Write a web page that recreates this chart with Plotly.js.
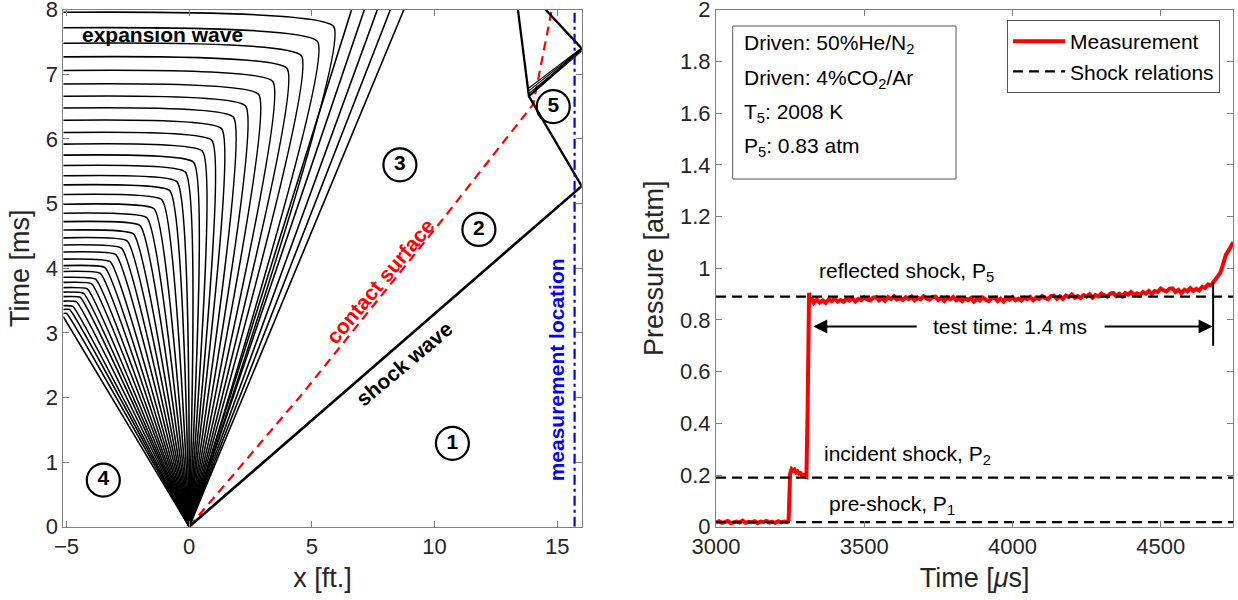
<!DOCTYPE html>
<html>
<head>
<meta charset="utf-8">
<script src="https://cdn.plot.ly/plotly-3.0.1.min.js"></script>
<style>
  html, body { margin: 0; padding: 0; background: #fff; }
  #chart { width: 1238px; height: 600px; }
</style>
</head>
<body>
<div id="chart"></div>
<script>
// ---------------- x-t wave diagram (left panel) ----------------
const X_LEFT = -5.13;      // left edge of the plotted tube section [ft]
const X_WALL = 16.0;       // driven-section end wall [ft]
const T_TOP = 8.0;         // top of the time window [ms]

// expansion fan: each characteristic leaves the diaphragm (0,0), bends at a corner
// and then runs almost horizontally out through the left edge
const fanCornerX = [-4.99, -4.87, -4.74, -4.59, -4.44, -4.30, -4.15, -3.98, -3.81, -3.62,
                    -3.43, -3.22, -2.99, -2.76, -2.52, -2.27, -2.00, -1.72, -1.43, -1.11,
                    -0.79, -0.50, -0.16, 0.18, 0.54, 0.92, 1.32, 1.80, 2.30, 2.83,
                    3.41, 3.99, 4.57, 5.23, 5.89];
const fanCornerT = [3.30, 3.36, 3.41, 3.48, 3.55, 3.61, 3.68, 3.76, 3.83, 3.92,
                    4.01, 4.10, 4.21, 4.31, 4.42, 4.53, 4.66, 4.78, 4.92, 5.06,
                    5.20, 5.34, 5.49, 5.64, 5.81, 5.98, 6.16, 6.34, 6.51, 6.69,
                    6.89, 7.09, 7.29, 7.51, 7.74];
const fanEdgeT   = [3.30, 3.36, 3.42, 3.49, 3.56, 3.63, 3.70, 3.78, 3.86, 3.95,
                    4.04, 4.14, 4.25, 4.36, 4.47, 4.59, 4.72, 4.85, 4.99, 5.14,
                    5.29, 5.43, 5.59, 5.75, 5.92, 6.10, 6.29, 6.48, 6.66, 6.85,
                    7.06, 7.27, 7.48, 7.72, 7.96];
const fanHeadEdgeT = 3.25;                    // head characteristic reaching the left edge
const fanTopX = [6.62, 7.14, 7.67, 8.20];     // characteristics leaving through the top
const fanTailTopX = 8.75;                      // tail of the expansion

// incident shock, reflected shock and the waves after the contact interaction
const shockX = [0, X_WALL];            const shockT = [0, 5.27];
const reflShockX = [X_WALL, 13.85, 13.40]; const reflShockT = [5.27, 6.66, 8.0];
const bundleStartX = [13.85, 13.84, 13.83, 13.82];
const bundleStartT = [6.66, 6.70, 6.74, 6.78];
const bundleEndT   = [7.36, 7.38, 7.40, 7.41];
const wallReflX = [X_WALL, 14.53];     const wallReflT = [7.40, 8.0];
const contactX = [0, 4.60, 10.30, 14.03, 14.78];
const contactT = [0, 2.05, 4.74, 6.54, 8.0];
const measX = 15.71;

// region markers
const regionLabels = ['1', '2', '3', '4', '5'];
const regionX = [10.73, 11.81, 8.59, -3.50, 14.84];
const regionT = [1.29, 4.60, 5.60, 0.72, 6.50];

// ---------------- pressure trace (right panel) ----------------
const measTime = [
  3000, 3010, 3020, 3030, 3040, 3050, 3060, 3070, 3080, 3090,
  3100, 3110, 3120, 3130, 3140, 3150, 3160, 3170, 3180, 3190,
  3200, 3210, 3220, 3230, 3240, 3245, 3250, 3255, 3260, 3265,
  3270, 3275, 3280, 3285, 3290, 3295, 3300, 3305, 3309, 3312,
  3314, 3317, 3322, 3330,
  3340, 3350, 3360, 3370, 3380, 3390, 3400, 3410, 3420, 3430,
  3440, 3450, 3460, 3470, 3480, 3490, 3500, 3510, 3520, 3530,
  3540, 3550, 3560, 3570, 3580, 3590, 3600, 3610, 3620, 3630,
  3640, 3650, 3660, 3670, 3680, 3690, 3700, 3710, 3720, 3730,
  3740, 3750, 3760, 3770, 3780, 3790, 3800, 3810, 3820, 3830,
  3840, 3850, 3860, 3870, 3880, 3890, 3900, 3910, 3920, 3930,
  3940, 3950, 3960, 3970, 3980, 3990, 4000, 4010, 4020, 4030,
  4040, 4050, 4060, 4070, 4080, 4090, 4100, 4110, 4120, 4130,
  4140, 4150, 4160, 4170, 4180, 4190, 4200, 4210, 4220, 4230,
  4240, 4250, 4260, 4270, 4280, 4290, 4300, 4310, 4320, 4330,
  4340, 4350, 4360, 4370, 4380, 4390, 4400, 4410, 4420, 4430,
  4440, 4450, 4460, 4470, 4480, 4490, 4500, 4510, 4520, 4530,
  4540, 4550, 4560, 4570, 4580, 4590, 4600, 4610, 4620, 4630,
  4640, 4650, 4660, 4670, 4680, 4690, 4700, 4705, 4710, 4715,
  4720, 4725, 4730, 4735, 4740, 4745
];
const measPressure = [
  0.016, 0.021, 0.015, 0.019, 0.022, 0.014, 0.018, 0.020, 0.016, 0.023,
  0.015, 0.019, 0.017, 0.021, 0.014, 0.020, 0.018, 0.022, 0.016, 0.019,
  0.015, 0.021, 0.017, 0.020, 0.018, 0.025, 0.205, 0.222, 0.216, 0.221,
  0.210, 0.214, 0.205, 0.207, 0.199, 0.200, 0.194, 0.192, 0.450, 0.800,
  0.905, 0.872, 0.885, 0.866,
  0.879, 0.867, 0.876, 0.866, 0.879, 0.873, 0.883, 0.871, 0.877, 0.870,
  0.881, 0.875, 0.884, 0.871, 0.881, 0.876, 0.887, 0.879, 0.875, 0.886,
  0.888, 0.876, 0.885, 0.874, 0.888, 0.881, 0.891, 0.879, 0.885, 0.877,
  0.888, 0.881, 0.890, 0.876, 0.886, 0.880, 0.891, 0.883, 0.878, 0.889,
  0.890, 0.877, 0.886, 0.874, 0.887, 0.880, 0.889, 0.876, 0.882, 0.873,
  0.884, 0.877, 0.885, 0.871, 0.881, 0.875, 0.886, 0.878, 0.873, 0.884,
  0.886, 0.873, 0.882, 0.871, 0.885, 0.878, 0.888, 0.876, 0.882, 0.875,
  0.886, 0.880, 0.889, 0.876, 0.886, 0.881, 0.892, 0.885, 0.880, 0.892,
  0.894, 0.882, 0.891, 0.881, 0.894, 0.888, 0.898, 0.886, 0.892, 0.885,
  0.896, 0.890, 0.899, 0.886, 0.896, 0.891, 0.902, 0.895, 0.890, 0.902,
  0.904, 0.892, 0.901, 0.891, 0.904, 0.898, 0.908, 0.896, 0.903, 0.896,
  0.908, 0.902, 0.912, 0.900, 0.912, 0.908, 0.921, 0.914, 0.910, 0.921,
  0.922, 0.908, 0.916, 0.904, 0.917, 0.911, 0.923, 0.912, 0.920, 0.914,
  0.928, 0.924, 0.937, 0.934, 0.948, 0.962, 0.980, 0.995, 1.015, 1.035,
  1.052, 1.060, 1.075, 1.080, 1.092, 1.100
];

// shock-relation pressures [atm]
const shockLevelNames = ['reflected shock, P<sub>5</sub>', 'incident shock, P<sub>2</sub>', 'pre-shock, P<sub>1</sub>'];
const shockLevels = [0.89, 0.19, 0.018];
const shockLevelLabelX = [3641, 3647, 3592];
const shockLevelLabelY = [0.985, 0.278, 0.085];
const timeRange = [3000, 4745];

// test time markers
const testStart = 3328, testEnd = 4677;
const testArrowY = 0.774;
const testLabel = 'test time: 1.4 ms';
const infoLines = ['Driven: 50%He/N<sub>2</sub>', 'Driven: 4%CO<sub>2</sub>/Ar',
                   'T<sub>5</sub>: 2008 K', 'P<sub>5</sub>: 0.83 atm'];

// ---------------- build traces ----------------
const FONT = 'Liberation Sans, Arial, Helvetica, sans-serif';
const AXC = '#808080';
const TXT = '#262626';

const fanX = [0, X_LEFT, null], fanT = [0, fanHeadEdgeT, null];
fanCornerX.forEach((cx, i) => {
  fanX.push(0, cx, X_LEFT, null);
  fanT.push(0, fanCornerT[i], fanEdgeT[i], null);
});
fanTopX.forEach(tx => { fanX.push(0, tx, null); fanT.push(0, T_TOP, null); });
fanX.push(0, fanTailTopX); fanT.push(0, T_TOP);

const bundleX = [], bundleT = [];
bundleStartX.forEach((bx, i) => {
  bundleX.push(bx, X_WALL, null);
  bundleT.push(bundleStartT[i], bundleEndT[i], null);
});

const shockRelX = [], shockRelY = [];
shockLevels.forEach(p => { shockRelX.push(timeRange[0], timeRange[1], null); shockRelY.push(p, p, null); });

const traces = [
  { x: fanX, y: fanT, xaxis: 'x', yaxis: 'y', mode: 'lines', showlegend: false, hoverinfo: 'skip',
    line: { color: '#000', width: 1.6, shape: 'spline', smoothing: 0.3 } },
  { x: contactX, y: contactT, xaxis: 'x', yaxis: 'y', mode: 'lines', showlegend: false,
    line: { color: '#ff0000', width: 2.2, dash: '9px,6px' } },
  { x: shockX, y: shockT, xaxis: 'x', yaxis: 'y', mode: 'lines', showlegend: false,
    line: { color: '#000', width: 2.6 } },
  { x: reflShockX, y: reflShockT, xaxis: 'x', yaxis: 'y', mode: 'lines', showlegend: false,
    line: { color: '#000', width: 2.3 } },
  { x: bundleX, y: bundleT, xaxis: 'x', yaxis: 'y', mode: 'lines', showlegend: false,
    line: { color: '#000', width: 1.1 } },
  { x: [bundleStartX[0], X_WALL], y: [bundleStartT[0], bundleEndT[2]], xaxis: 'x', yaxis: 'y',
    mode: 'lines', showlegend: false, line: { color: '#000', width: 2.2 } },
  { x: wallReflX, y: wallReflT, xaxis: 'x', yaxis: 'y', mode: 'lines', showlegend: false,
    line: { color: '#000', width: 2.3 } },
  { x: [measX, measX], y: [0, T_TOP], xaxis: 'x', yaxis: 'y', mode: 'lines', showlegend: false,
    line: { color: '#0000ff', width: 2.2, dash: '10px,4px,3px,4px' } },
  { x: regionX, y: regionT, xaxis: 'x', yaxis: 'y', mode: 'markers+text', showlegend: false,
    text: regionLabels.map(s => '<b>' + s + '</b>'), textposition: 'middle center',
    textfont: { family: FONT, size: 21, color: '#000' },
    marker: { symbol: 'circle-open', size: 33, color: '#000', line: { width: 2.2, color: '#000' } } },

  { x: measTime, y: measPressure, xaxis: 'x2', yaxis: 'y2', mode: 'lines', name: 'Measurement',
    line: { color: '#ff0000', width: 4 } },
  { x: shockRelX, y: shockRelY, xaxis: 'x2', yaxis: 'y2', mode: 'lines', name: 'Shock relations',
    line: { color: '#000', width: 2.3, dash: '10px,6px' } }
];

const axisCommon = {
  showgrid: false, zeroline: false, showline: true, linecolor: AXC, linewidth: 1,
  mirror: 'ticks', ticks: 'inside', ticklen: 6, tickwidth: 1, tickcolor: AXC,
  ticklabeloverflow: 'allow',
  tickfont: { family: FONT, size: 22, color: TXT }
};
const titleFont = { family: FONT, size: 27, color: TXT };

const annotations = [
  { xref: 'x', yref: 'y', x: -1.09, y: 7.62, text: '<b>expansion wave</b>', showarrow: false,
    font: { family: FONT, size: 21, color: '#000' } },
  { xref: 'x', yref: 'y', x: 7.78, y: 3.79, text: '<b>contact surface</b>', showarrow: false,
    textangle: -50, font: { family: FONT, size: 21, color: '#ff0000' } },
  { xref: 'x', yref: 'y', x: 8.76, y: 2.53, text: '<b>shock wave</b>', showarrow: false,
    textangle: -40, font: { family: FONT, size: 21, color: '#000' } },
  { xref: 'x', yref: 'y', x: 14.98, y: 2.43, text: '<b>measurement location</b>', showarrow: false,
    textangle: -90, font: { family: FONT, size: 21, color: '#0000ff' } },

  { xref: 'x2', yref: 'y2', x: (testStart + testEnd) / 2 - 12, y: testArrowY, text: testLabel, showarrow: false,
    font: { family: FONT, size: 21, color: '#000' } },
  { xref: 'x2', yref: 'y2', axref: 'x2', ayref: 'y2', x: testStart, y: testArrowY, ax: 3682, ay: testArrowY,
    text: '', showarrow: true, arrowhead: 2, arrowsize: 1.4, arrowwidth: 2, arrowcolor: '#000' },
  { xref: 'x2', yref: 'y2', axref: 'x2', ayref: 'y2', x: testEnd - 2, y: testArrowY, ax: 4306, ay: testArrowY,
    text: '', showarrow: true, arrowhead: 2, arrowsize: 1.4, arrowwidth: 2, arrowcolor: '#000' }
];
shockLevelNames.forEach((name, i) => annotations.push({
  xref: 'x2', yref: 'y2', x: shockLevelLabelX[i], y: shockLevelLabelY[i], text: name, showarrow: false,
  font: { family: FONT, size: 21, color: '#000' }
}));
const infoY = [44, 78.7, 112.5, 147];
infoLines.forEach((line, i) => annotations.push({
  xref: 'paper', yref: 'paper', x: 742 / 1238, y: 1 - infoY[i] / 600, xanchor: 'left', yanchor: 'middle',
  text: line, showarrow: false, font: { family: FONT, size: 21, color: '#000' }
}));

const layout = {
  width: 1238, height: 600,
  margin: { l: 0, r: 0, t: 0, b: 0, pad: 0 },
  paper_bgcolor: '#fff', plot_bgcolor: '#fff',
  font: { family: FONT, size: 21, color: '#000' },
  showlegend: true,
  xaxis: Object.assign({}, axisCommon, {
    domain: [63.3 / 1238, 581.7 / 1238], range: [X_LEFT, X_WALL], anchor: 'y',
    tickvals: [-5, 0, 5, 10, 15], title: { text: 'x [ft.]', font: titleFont, standoff: 10 } }),
  yaxis: Object.assign({}, axisCommon, {
    domain: [1 - 526.7 / 600, 1 - 9.7 / 600], range: [0, T_TOP], anchor: 'x',
    tickvals: [0, 1, 2, 3, 4, 5, 6, 7, 8], title: { text: 'Time [ms]', font: titleFont, standoff: 8 } }),
  xaxis2: Object.assign({}, axisCommon, {
    domain: [716 / 1238, 1233.3 / 1238], range: timeRange, anchor: 'y2',
    tickvals: [3000, 3500, 4000, 4500], title: { text: 'Time [<i>μ</i>s]', font: titleFont, standoff: 10 } }),
  yaxis2: Object.assign({}, axisCommon, {
    domain: [1 - 526.7 / 600, 1 - 9.7 / 600], range: [0, 2], anchor: 'x2',
    tickvals: [0, 0.2, 0.4, 0.6, 0.8, 1, 1.2, 1.4, 1.6, 1.8, 2],
    title: { text: 'Pressure [atm]', font: titleFont, standoff: 8 } }),
  legend: {
    x: 1220 / 1238, xanchor: 'right', y: 1 - 20 / 600, yanchor: 'top',
    bgcolor: '#fff', bordercolor: '#555', borderwidth: 1,
    font: { family: FONT, size: 21, color: '#000' }, itemwidth: 52, tracegroupgap: 0
  },
  shapes: [
    { type: 'rect', xref: 'paper', yref: 'paper', x0: 732.7 / 1238, x1: 956 / 1238,
      y0: 1 - 179 / 600, y1: 1 - 26 / 600, line: { color: '#555', width: 1 }, fillcolor: 'rgba(0,0,0,0)' },
    { type: 'line', xref: 'x2', yref: 'y2', x0: testEnd, x1: testEnd, y0: 0.70, y1: 0.945,
      line: { color: '#000', width: 2 } }
  ],
  annotations: annotations
};

Plotly.newPlot('chart', traces, layout, { displayModeBar: false, staticPlot: true });
</script>
</body>
</html>
